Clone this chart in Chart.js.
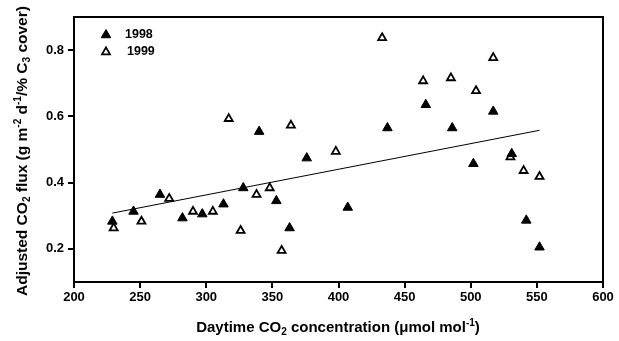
<!DOCTYPE html>
<html>
<head>
<meta charset="utf-8">
<script src="https://cdn.jsdelivr.net/npm/chart.js@4"></script>
<style>
  body { margin: 0; background: #fff; }
  #wrap { position: relative; width: 619px; height: 341px; font-family: "Liberation Sans", Arial, sans-serif; }
  canvas { position: absolute; left: 0; top: 0; }
  .title { position: absolute; font-weight: bold; font-size: 15px; color: #000; white-space: nowrap; }
  .title sub { font-size: 10px; vertical-align: -3px; line-height: 0; }
  .title sup { font-size: 10px; vertical-align: 6px; line-height: 0; }
  #xTitle { left: 0; width: 676px; text-align: center; top: 318px; }
  #yTitle { left: 22px; top: 151px; font-size: 15.5px; transform: translate(-50%, -50%) rotate(-90deg); }
</style>
</head>
<body>
<div id="wrap">
  <canvas id="chart" width="619" height="341"></canvas>
  <div class="title" id="xTitle">Daytime CO<sub>2</sub> concentration (&mu;mol mol<sup>-1</sup>)</div>
  <div class="title" id="yTitle">Adjusted CO<sub>2</sub> flux (g m<sup>-2</sup> d<sup>-1</sup>/% C<sub>3</sub> cover)</div>
</div>
<script>
// ========== Data ==========
const x1998 = [229, 245, 265, 282, 297, 313, 328, 340, 353, 363, 376, 407, 437, 466, 486, 502, 517, 531, 542, 552];
const y1998 = [0.283, 0.313, 0.364, 0.293, 0.305, 0.335, 0.384, 0.554, 0.345, 0.263, 0.474, 0.325, 0.565, 0.635, 0.565, 0.457, 0.615, 0.487, 0.286, 0.205];

const x1999 = [230, 251, 272, 290, 305, 317, 326, 338, 348, 357, 364, 398, 433, 464, 485, 504, 517, 530, 540, 552];
const y1999 = [0.263, 0.283, 0.352, 0.313, 0.313, 0.593, 0.255, 0.364, 0.384, 0.195, 0.573, 0.494, 0.837, 0.707, 0.716, 0.677, 0.777, 0.477, 0.436, 0.418];

const fitX = [229, 552];
const fitY = [0.308, 0.558];

const xTicks = [200, 250, 300, 350, 400, 450, 500, 550, 600];
const yTicks = [0.2, 0.4, 0.6, 0.8];
const legendLabels = ['1998', '1999'];

const toPoints = (xs, ys) => xs.map((x, i) => ({ x, y: ys[i] }));
const tickFont = { family: '"Liberation Sans", Arial, sans-serif', size: 13, weight: 'bold' };

// ========== Plugins ==========
// closes the frame on top and right
const frame = {
  id: 'frame',
  afterDraw(chart) {
    const { ctx, chartArea: a } = chart;
    ctx.save();
    ctx.strokeStyle = '#000';
    ctx.lineWidth = 2;
    ctx.beginPath();
    ctx.moveTo(a.left, a.top);
    ctx.lineTo(a.right, a.top);
    ctx.lineTo(a.right, a.bottom);
    ctx.stroke();
    ctx.restore();
  }
};

// legend in the top left corner of the plot
const cornerLegend = {
  id: 'cornerLegend',
  afterDraw(chart) {
    const { ctx, chartArea: a } = chart;
    ctx.save();
    ctx.font = 'bold 12.5px "Liberation Sans", Arial, sans-serif';
    ctx.textBaseline = 'middle';
    legendLabels.forEach((label, i) => {
      const ds = chart.data.datasets[i];
      const cx = a.left + 32, cy = a.top + 17 + i * 17;
      const r = ds.pointRadius;
      ctx.fillStyle = ds.pointBackgroundColor;
      ctx.strokeStyle = '#000';
      ctx.lineWidth = ds.pointBorderWidth;
      ctx.beginPath();
      for (let k = 0; k < 3; k++) {
        const ang = -Math.PI / 2 + k * 2 * Math.PI / 3;
        const px = cx + Math.cos(ang) * r, py = cy + Math.sin(ang) * r + 1;
        k ? ctx.lineTo(px, py) : ctx.moveTo(px, py);
      }
      ctx.closePath();
      ctx.fill();
      ctx.stroke();
      ctx.fillStyle = '#000';
      ctx.fillText(label, cx + 19 + i * 2, cy + 1);
    });
    ctx.restore();
  }
};

// ========== Chart ==========
new Chart(document.getElementById('chart'), {
  type: 'scatter',
  data: {
    datasets: [
      {
        label: legendLabels[0],
        data: toPoints(x1998, y1998),
        pointStyle: 'triangle',
        pointRadius: 5.5,
        pointBorderWidth: 1,
        pointBackgroundColor: '#000',
        pointBorderColor: '#000'
      },
      {
        label: legendLabels[1],
        data: toPoints(x1999, y1999),
        pointStyle: 'triangle',
        pointRadius: 4.6,
        pointBorderWidth: 1.8,
        pointBackgroundColor: '#fff',
        pointBorderColor: '#000'
      },
      {
        label: 'fit',
        type: 'line',
        data: toPoints(fitX, fitY),
        borderColor: '#000',
        borderWidth: 1,
        pointRadius: 0,
        fill: false
      }
    ]
  },
  options: {
    responsive: false,
    animation: false,
    layout: { padding: { left: 0, right: 16, top: 17, bottom: 0 } },
    plugins: { legend: { display: false }, tooltip: { enabled: false } },
    scales: {
      x: {
        type: 'linear',
        min: 200,
        max: 600,
        afterBuildTicks: s => { s.ticks = xTicks.map(v => ({ value: v })); },
        afterFit: s => { s.height = 59; },
        ticks: { color: '#000', font: tickFont, padding: 2, maxRotation: 0 },
        grid: { display: true, drawOnChartArea: false, drawTicks: true, tickLength: 6, color: '#000', lineWidth: 2 },
        border: { display: true, color: '#000', width: 2 }
      },
      y: {
        type: 'linear',
        min: 0.1,
        max: 0.9,
        afterBuildTicks: s => { s.ticks = yTicks.map(v => ({ value: v })); },
        afterFit: s => { s.width = 74; },
        ticks: { color: '#000', font: tickFont, padding: 4, callback: v => v.toFixed(1) },
        grid: { display: true, drawOnChartArea: false, drawTicks: true, tickLength: 6, color: '#000', lineWidth: 2 },
        border: { display: true, color: '#000', width: 2 }
      }
    }
  },
  plugins: [frame, cornerLegend]
});
</script>
</body>
</html>
